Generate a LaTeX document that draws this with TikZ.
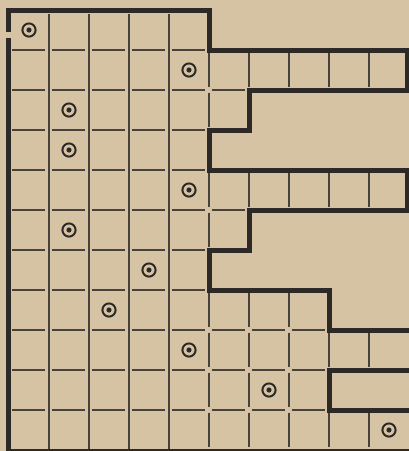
\documentclass[tikz,border=0pt]{standalone}
\usepackage{tikz}
\usepackage{xcolor}
\usetikzlibrary{calc}
\definecolor{cPaper}{RGB}{214,195,164}
\definecolor{cInk}{RGB}{44,41,39}
\definecolor{cLine}{RGB}{72,66,60}
\tikzset{
	wall/.style    ={line width=0.125cm, draw=cInk, line cap=butt, line join=miter},
	gridline/.style={line width=0.8pt, draw=cLine},
	spot/.style    ={circle, draw=cInk, line width=1.4pt, minimum size=0.33cm, inner sep=0pt,
		path picture={\fill[cInk] (path picture bounding box.center) circle (0.065cm);}},
}
% cells in each row, top to bottom
\def\rowlen{{5,10,6,5,10,6,5,8,10,8,10}}

\begin{document}
\begin{tikzpicture}[x=1cm, y=-1cm]
	\fill[cPaper] (-0.225,-0.25) rectangle (10,11.025);
	\useasboundingbox (-0.225,-0.25) rectangle (10,11.025);
	\foreach \k in {1,...,4}
	\draw[gridline] (\k,0.1) -- (\k,10.97);
	\foreach \r in {0,...,10}{
		\pgfmathtruncatemacro\n{\rowlen[\r]-1}
		\ifnum\n>4
		\foreach \k in {5,...,\n}
		\draw[gridline] (\k,\r+0.07) -- (\k,\r+0.93);
		\fi
	}
	\foreach \r in {1,...,10}{
		\pgfmathtruncatemacro\m{min(\rowlen[\r-1],\rowlen[\r])}
		\foreach \c in {1,...,\m}
		\draw[gridline] (\c-0.92,\r) -- (\c-0.1,\r);
	}
	% walls
	\draw[wall] (0,0.55) -- (0,0) -- (5,0) -- (5,1) -- (9.95,1) -- (9.95,2) -- (6,2) -- (6,3) -- (5,3) -- (5,4)
		-- (9.95,4) -- (9.95,5) -- (6,5) -- (6,6) -- (5,6) -- (5,7) -- (8,7) -- (8,8) -- (10,8);
	\draw[wall] (10,9) -- (8,9) -- (8,10) -- (10,10);
	\draw[wall] (0,0.71) -- (0,11.04) -- (10,11.04);
	\foreach \x/\y [count=\i] in {0/0,4/1,1/2,1/3,4/4,1/5,3/6,2/7,4/8,6/9,9/10}
	\node[spot] (s\i) at (\x+0.5,\y+0.5) {};
\end{tikzpicture}
\end{document}
